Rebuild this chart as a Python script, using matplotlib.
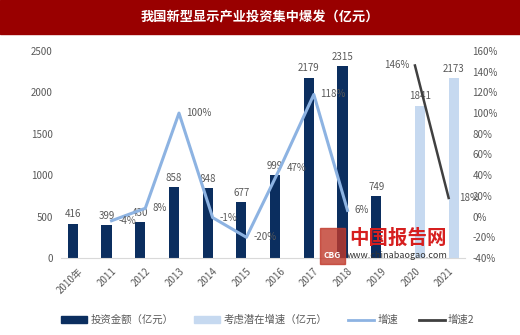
import matplotlib.pyplot as plt
import numpy as np
from matplotlib.patches import Rectangle

plt.rcParams['font.family'] = ['Noto Sans CJK SC', 'DejaVu Sans']

years = ['2010年', '2011', '2012', '2013', '2014', '2015', '2016', '2017', '2018', '2019', '2020', '2021']
invest = [416, 399, 430, 858, 848, 677, 999, 2179, 2315, 749, None, None]     # 投资金额
potential = [None] * 10 + [1841, 2173]                                       # 考虑潜在增速
growth = [None, -4, 8, 100, -1, -20, 47, 118, 6, None, None, None]           # 增速 (%)
growth2 = [None] * 10 + [146, 18]                                            # 增速2 (%)

dark = '#0b2e5f'
light = '#c6d9f0'
lblue = '#8db3e2'
grey_txt = '#595959'

fig = plt.figure(figsize=(5.2, 3.35), dpi=100)
fig.patch.set_facecolor('white')

# title bar
fig.add_artist(Rectangle((0, 1 - 34 / 335), 1, 34 / 335, transform=fig.transFigure,
                         color='#990000', zorder=0))
fig.text(0.5, 1 - 17 / 335, '我国新型显示产业投资集中爆发（亿元）', color='white',
         ha='center', va='center', fontsize=9.5, fontweight='bold')

ax = fig.add_axes([61 / 520, 1 - 258 / 335, 404.5 / 520, 207 / 335])
ax2 = ax.twinx()
x = np.arange(len(years))
w = 0.3

for i, v in enumerate(invest):
    if v is None:
        continue
    ax.bar(x[i] - w / 2, v, w, color=dark, zorder=2)
    ax.text(x[i] - w / 2, v + 50, str(v), ha='center', va='bottom', fontsize=7, color=grey_txt)
for i, v in enumerate(potential):
    if v is None:
        continue
    ax.bar(x[i] + w / 2, v, w, color=light, zorder=2)
    ax.text(x[i] + w / 2, v + 50, str(v), ha='center', va='bottom', fontsize=7, color=grey_txt)

gx = [i for i, v in enumerate(growth) if v is not None]
gy = [growth[i] for i in gx]
ax2.plot(gx, gy, color=lblue, lw=2.2, zorder=3)
for i, v in zip(gx, gy):
    ax2.text(i + 0.2, v, f'{v}%', ha='left', va='center', fontsize=7, color=grey_txt)

g2x = [i for i, v in enumerate(growth2) if v is not None]
g2y = [growth2[i] for i in g2x]
ax2.plot(g2x, g2y, color='#404040', lw=1.8, zorder=3)
ax2.text(g2x[0] - 0.15, g2y[0], f'{g2y[0]}%', ha='right', va='center', fontsize=7, color=grey_txt)
ax2.text(g2x[1] + 0.3, g2y[1], f'{g2y[1]}%', ha='left', va='center', fontsize=7, color=grey_txt)

ax.set_xlim(-0.5, 11.5)
ax.set_ylim(0, 2500)
ax.set_yticks(range(0, 2501, 500))
ax2.set_ylim(-40, 160)
ax2.set_yticks(range(-40, 161, 20))
ax2.set_yticklabels([f'{t}%' for t in range(-40, 161, 20)])
ax.set_xticks(x)
ax.set_xticklabels(years, rotation=45, ha='right', rotation_mode='anchor')

for a in (ax, ax2):
    for s in a.spines.values():
        s.set_visible(False)
    a.tick_params(length=0, labelsize=7, colors=grey_txt)
ax.spines['bottom'].set_visible(True)
ax.spines['bottom'].set_color('#d9d9d9')
ax.tick_params(axis='y', pad=6)
ax2.tick_params(axis='y', pad=5)
ax.tick_params(axis='x', pad=6)

# watermark
fig.add_artist(Rectangle((320 / 520, 1 - 264 / 335), 25 / 520, 36 / 335, transform=fig.transFigure,
                         color='#c0392b', alpha=0.8, zorder=5))
fig.text(332.5 / 520, 1 - 255 / 335, 'CBG', color='white', fontsize=6, ha='center', va='center',
         fontweight='bold', zorder=6)
fig.text(349 / 520, 1 - 238 / 335, '中国报告网', color='#d61f1f', fontsize=14, fontweight='bold',
         ha='left', va='center', zorder=6)
fig.text(347 / 520, 1 - 255 / 335, 'www.chinabaogao.com', color='#333333', fontsize=6.5,
         ha='left', va='center', zorder=6)

handles = [
    Rectangle((0, 0), 1, 1, color=dark),
    Rectangle((0, 0), 1, 1, color=light),
    plt.Line2D([], [], color=lblue, lw=2),
    plt.Line2D([], [], color='#404040', lw=2),
]
labels = ['投资金额（亿元）', '考虑潜在增速（亿元）', '增速', '增速2']
leg = fig.legend(handles, labels, loc='center', bbox_to_anchor=(0.515, 1 - 320 / 335), ncol=4,
                 frameon=False, fontsize=7.5, handlelength=2.5, handleheight=0.6, columnspacing=2.0,
                 handletextpad=0.3)
for t in leg.get_texts():
    t.set_color(grey_txt)

fig.savefig('out.png', dpi=100)
